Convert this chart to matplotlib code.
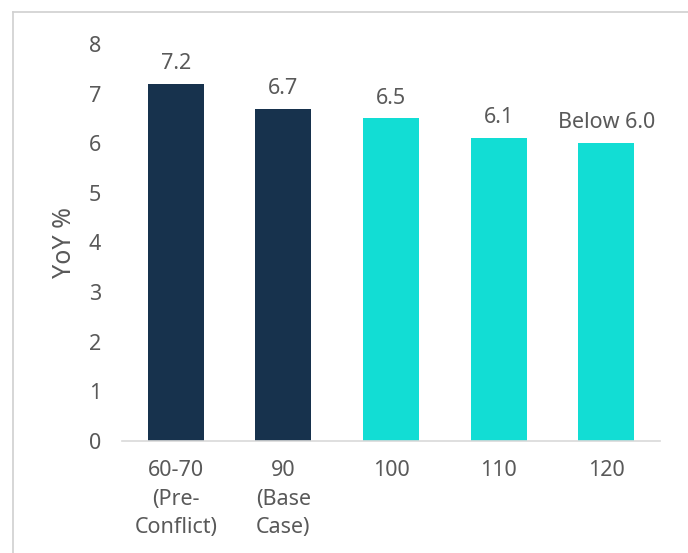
import matplotlib
matplotlib.use("Agg")
import matplotlib.pyplot as plt
from matplotlib.lines import Line2D

categories = ["60-70\n(Pre-\nConflict)", "90\n(Base\nCase)", "100", "110", "120"]
values = [7.2, 6.7, 6.5, 6.1, 6.0]
labels = ["7.2", "6.7", "6.5", "6.1", "Below 6.0"]
colors = ["#17324D", "#17324D", "#12DDD4", "#12DDD4", "#12DDD4"]
yticks = [0, 1, 2, 3, 4, 5, 6, 7, 8]

plt.rcParams['font.family'] = ['Noto Sans', 'DejaVu Sans']
txt = "#595959"
fs = 15.5

fig = plt.figure(figsize=(6.88, 5.53), dpi=100)
ax = fig.add_axes([122/688, 1-441/553, (660-122)/688, (441-44)/553])
x = range(len(categories))
ax.bar(x, values, width=0.52, color=colors)
for xi, v, l in zip(x, values, labels):
    ax.text(xi, v + 0.2, l, ha='center', va='bottom', fontsize=fs, color=txt)
ax.set_xlim(-0.5, 4.5)
ax.set_ylim(0, 8)
ax.set_yticks(yticks)
ax.set_xticks(list(x))
ax.set_xticklabels(categories, fontsize=fs, color=txt, va='top', linespacing=1.45)
ax.tick_params(axis='y', length=0, labelsize=fs, labelcolor=txt, pad=15)
ax.tick_params(axis='x', length=0, pad=14)
for s in ['top', 'right', 'left']:
    ax.spines[s].set_visible(False)
ax.spines['bottom'].set_color('#D9D9D9')
ax.spines['bottom'].set_linewidth(1.2)
ax.set_ylabel("YoY %", fontsize=18, color=txt)
ax.yaxis.label.set_va('center')
ax.yaxis.set_label_coords(-0.106, 0.5)

# chart frame border (top and left)
fig.add_artist(Line2D([13/688, 13/688], [0, 1-12/553], color='#D0D0D0', lw=1.2, transform=fig.transFigure))
fig.add_artist(Line2D([13/688, 1], [1-12/553, 1-12/553], color='#D0D0D0', lw=1.2, transform=fig.transFigure))

fig.savefig("out.png", dpi=100)
